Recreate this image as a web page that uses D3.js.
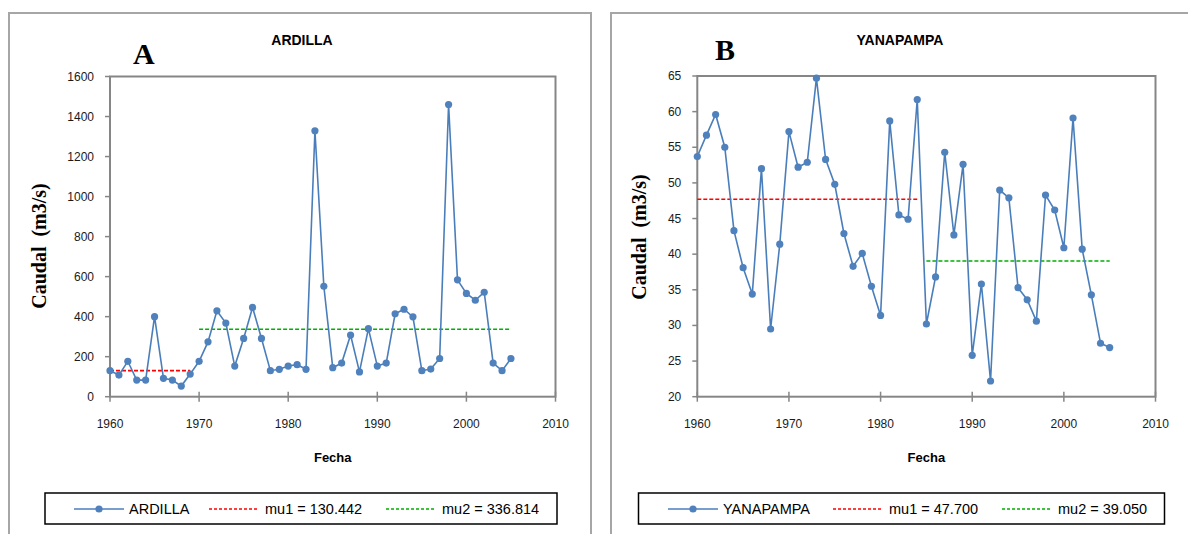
<!DOCTYPE html>
<html>
<head>
<meta charset="utf-8">
<script src="https://d3js.org/d3.v7.min.js"></script>
<style>
body { margin: 0; background: #fff; }
text { font-family: "Liberation Sans", Arial, sans-serif; }
text.serif { font-family: "Liberation Serif", "Times New Roman", serif; }
</style>
</head>
<body>
<svg id="chart" width="1188" height="534"></svg>
<script>
// years of record
var years = [1960,1961,1962,1963,1964,1965,1966,1967,1968,1969,
             1970,1971,1972,1973,1974,1975,1976,1977,1978,1979,
             1980,1981,1982,1983,1984,1985,1986,1987,1988,1989,
             1990,1991,1992,1993,1994,1995,1996,1997,1998,1999,
             2000,2001,2002,2003,2004,2005];

// caudal ARDILLA (m3/s)
var ardilla = [130,108,177,83,83,400,92,83,53,113,
               177,274,429,368,153,291,446,291,130,137,
               153,160,137,1329,552,145,168,308,124,340,
               153,168,414,437,399,130,138,191,1460,584,
               516,482,522,168,130,191];

// caudal YANAPAMPA (m3/s)
var yanapampa = [53.7,56.7,59.6,55.0,43.3,38.1,34.4,52.0,29.5,41.4,
                 57.2,52.2,52.9,64.7,53.3,49.8,42.9,38.3,40.1,35.5,
                 31.4,58.7,45.5,44.9,61.7,30.2,36.8,54.3,42.7,52.6,
                 25.8,35.8,22.2,49.0,47.9,35.3,33.6,30.6,48.3,46.2,
                 40.9,59.1,40.7,34.3,27.5,26.9];

// means (value, first year, last year)
var ardillaMu = [{v: 130.442, from: 1960, to: 1969}, {v: 336.814, from: 1970, to: 2005}];
var yanaMu    = [{v: 47.700, from: 1960, to: 1984}, {v: 39.050, from: 1985, to: 2005}];

var xTicks = [1960,1970,1980,1990,2000,2010];
var ardillaTicks = [0,200,400,600,800,1000,1200,1400,1600];
var yanaTicks = [20,25,30,35,40,45,50,55,60,65];

var svg = d3.select("#chart");
var blue = "#4a7ebb", red = "#ff0000", green = "#00b000", axisGray = "#868686";

function drawPanel(p) {
  var g = svg.append("g");

  // outer frame
  g.append("rect").attr("x", p.frame[0]).attr("y", p.frame[1])
    .attr("width", p.frame[2]).attr("height", p.frame[3])
    .attr("fill", "#fff").attr("stroke", "#a6a6a6").attr("stroke-width", 2);

  var x = d3.scaleLinear().domain([1960, 2010]).range([p.left, p.right]);
  var y = d3.scaleLinear().domain(p.yDomain).range([p.bottom, p.top]);

  // plot box
  g.append("rect").attr("x", p.left).attr("y", p.top)
    .attr("width", p.right - p.left).attr("height", p.bottom - p.top)
    .attr("fill", "none").attr("stroke", axisGray).attr("stroke-width", 2);

  // y ticks
  g.selectAll(".yt").data(p.yTicks).enter().append("line")
    .attr("x1", p.left - 5).attr("x2", p.left)
    .attr("y1", function(d) { return y(d); }).attr("y2", function(d) { return y(d); })
    .attr("stroke", axisGray).attr("stroke-width", 1.5);
  g.selectAll(".yl").data(p.yTicks).enter().append("text")
    .attr("x", p.left - 16).attr("y", function(d) { return y(d) + 4; })
    .attr("text-anchor", "end").attr("font-size", 12).attr("fill", "#1a1a1a")
    .text(function(d) { return d; });

  // x ticks
  g.selectAll(".xt").data(xTicks).enter().append("line")
    .attr("y1", p.bottom - 5).attr("y2", p.bottom + 5)
    .attr("x1", function(d) { return x(d); }).attr("x2", function(d) { return x(d); })
    .attr("stroke", axisGray).attr("stroke-width", 1.5);
  g.selectAll(".xl").data(xTicks).enter().append("text")
    .attr("x", function(d) { return x(d); }).attr("y", p.bottom + 31)
    .attr("text-anchor", "middle").attr("font-size", 12).attr("fill", "#1a1a1a")
    .text(function(d) { return d; });

  // mean lines
  var muColors = [red, green];
  g.selectAll(".mu").data(p.mu).enter().append("line")
    .attr("x1", function(d) { return x(d.from); }).attr("x2", function(d) { return x(d.to); })
    .attr("y1", function(d) { return y(d.v); }).attr("y2", function(d) { return y(d.v); })
    .attr("stroke", function(d, i) { return muColors[i]; })
    .attr("stroke-width", 1.6).attr("stroke-dasharray", "4,2");

  // series
  var pts = years.map(function(yr, i) { return [yr, p.values[i]]; });
  g.append("path").datum(pts)
    .attr("fill", "none").attr("stroke", blue).attr("stroke-width", 1.6)
    .attr("d", d3.line().x(function(d) { return x(d[0]); }).y(function(d) { return y(d[1]); }));
  g.selectAll(".pt").data(pts).enter().append("circle")
    .attr("cx", function(d) { return x(d[0]); }).attr("cy", function(d) { return y(d[1]); })
    .attr("r", 3.6).attr("fill", "#4f81bd");

  // titles
  g.append("text").attr("x", p.titleX).attr("y", 45).attr("text-anchor", "middle")
    .attr("font-size", 14).attr("font-weight", "bold").text(p.name);
  g.append("text").attr("class", "serif").attr("x", p.letterX).attr("y", p.letterY)
    .attr("font-size", 30).attr("font-weight", "bold").text(p.letter);
  g.append("text").attr("x", (p.left + p.right) / 2).attr("y", 462).attr("text-anchor", "middle")
    .attr("font-size", 13).attr("font-weight", "bold").text("Fecha");
  g.append("text").attr("class", "serif")
    .attr("transform", "translate(" + p.yLabel[0] + "," + p.yLabel[1] + ") rotate(-90)")
    .attr("text-anchor", "middle")
    .attr("font-size", 20).attr("font-weight", "bold")
    .style("white-space", "pre").text("Caudal  (m3/s)");

  // legend
  var L = p.legend;
  g.append("rect").attr("x", L.x).attr("y", 493).attr("width", L.w).attr("height", 31)
    .attr("fill", "#fff").attr("stroke", "#000").attr("stroke-width", 1.5);
  var ly = 509;
  g.append("line").attr("x1", L.s[0]).attr("x2", L.s[0] + 50).attr("y1", ly).attr("y2", ly)
    .attr("stroke", blue).attr("stroke-width", 1.6);
  g.append("circle").attr("cx", L.s[0] + 25).attr("cy", ly).attr("r", 3.6).attr("fill", "#4f81bd");
  g.append("text").attr("x", L.s[0] + 55).attr("y", ly + 5).attr("font-size", 14.5).text(p.name);
  var labels = ["mu1 = " + p.mu[0].v.toFixed(3), "mu2 = " + p.mu[1].v.toFixed(3)];
  [L.s[1], L.s[2]].forEach(function(sx, i) {
    g.append("line").attr("x1", sx).attr("x2", sx + 50).attr("y1", ly).attr("y2", ly)
      .attr("stroke", muColors[i]).attr("stroke-width", 1.6).attr("stroke-dasharray", "3,2");
    g.append("text").attr("x", sx + 56).attr("y", ly + 5).attr("font-size", 14.5).text(labels[i]);
  });
}

drawPanel({
  name: "ARDILLA", letter: "A", values: ardilla, mu: ardillaMu,
  yDomain: [0, 1600], yTicks: ardillaTicks,
  frame: [9, 13, 582, 540],
  left: 110, right: 555.5, top: 76.5, bottom: 396.7,
  titleX: 302, letterX: 133, letterY: 64, yLabel: [46, 246],
  legend: {x: 45, w: 512, s: [74, 209, 386]}
});

drawPanel({
  name: "YANAPAMPA", letter: "B", values: yanapampa, mu: yanaMu,
  yDomain: [20, 65], yTicks: yanaTicks,
  frame: [611, 13, 590, 540],
  left: 697.3, right: 1155.5, top: 76, bottom: 396.7,
  titleX: 900, letterX: 715, letterY: 60, yLabel: [646, 237],
  legend: {x: 638.5, w: 526, s: [668, 833, 1002]}
});
</script>
</body>
</html>
